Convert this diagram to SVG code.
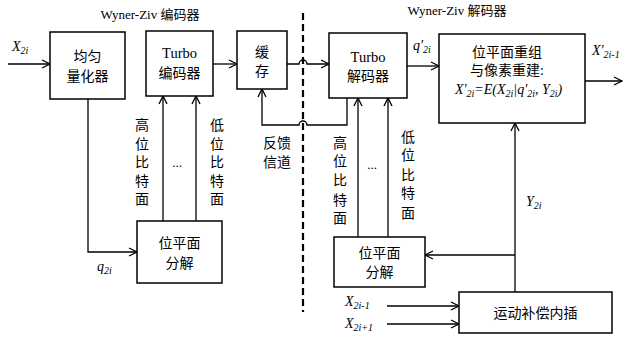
<svg xmlns="http://www.w3.org/2000/svg" width="624" height="340" viewBox="0 0 624 340">
<style>
.box{fill:#fff;stroke:#000;stroke-width:1.5}
.ln{fill:none;stroke:#000;stroke-width:1.3}
.zh{font-family:"Liberation Serif","Noto Sans CJK SC",serif;font-size:14px;text-anchor:middle;fill:#000}
.en{font-family:"Liberation Serif","Noto Sans CJK SC",serif;font-size:14.5px;text-anchor:middle;fill:#000}
.tt{font-family:"Liberation Serif","Noto Sans CJK SC",serif;font-size:13px;text-anchor:middle;fill:#000}
.it{font-family:"Liberation Serif",serif;font-size:14px;font-style:italic;fill:#000}
.sb{font-size:10px}
</style>
<defs>
<marker id="ar" markerUnits="userSpaceOnUse" markerWidth="12" markerHeight="12" refX="9" refY="5" orient="auto">
<path d="M1,1 L9,5 L1,9" fill="none" stroke="#000" stroke-width="1.3"/>
</marker>
</defs>
<rect width="624" height="340" fill="#fff"/>
<text class="tt" x="150" y="19">Wyner-Ziv 编码器</text>
<text class="tt" x="457" y="15">Wyner-Ziv 解码器</text>
<line x1="303" y1="13" x2="303" y2="312" stroke="#000" stroke-width="2.2" stroke-dasharray="7 4"/>
<g id="connectors">
<path class="ln" d="M8,64 H50" marker-end="url(#ar)"/>
<path class="ln" d="M88,99 V252 H137" marker-end="url(#ar)"/>
<path class="ln" d="M213,64 H237" marker-end="url(#ar)"/>
<path class="ln" d="M287,64 H299 A4,4 0 0 1 307,64 H329" marker-end="url(#ar)"/>
<path class="ln" d="M347,98 V125 H307 A4,4 0 0 0 299,125 H262 V89" marker-end="url(#ar)"/>
<path class="ln" d="M163,221 V96" marker-end="url(#ar)"/>
<path class="ln" d="M196,221 V96" marker-end="url(#ar)"/>
<path class="ln" d="M358,237 V98" marker-end="url(#ar)"/>
<path class="ln" d="M388,237 V98" marker-end="url(#ar)"/>
<path class="ln" d="M407,66 H439" marker-end="url(#ar)"/>
<path class="ln" d="M585,81 H622" marker-end="url(#ar)"/>
<path class="ln" d="M515,292 V123" marker-end="url(#ar)"/>
<path class="ln" d="M515,255 H425" marker-end="url(#ar)"/>
<path class="ln" d="M387,306 H459" marker-end="url(#ar)"/>
<path class="ln" d="M387,324 H459" marker-end="url(#ar)"/>
</g>
<g id="quantizer">
<rect class="box" x="50" y="32" width="75" height="67"/>
<text class="zh" x="87.5" y="61">均匀</text>
<text class="zh" x="87.5" y="81">量化器</text>
</g>
<g id="turbo-enc">
<rect class="box" x="146" y="31" width="67" height="65"/>
<text class="en" x="179.5" y="58">Turbo</text>
<text class="zh" x="179.5" y="78">编码器</text>
</g>
<g id="buffer">
<rect class="box" x="237" y="31" width="50" height="58"/>
<text class="zh" x="262" y="57">缓</text>
<text class="zh" x="262" y="76">存</text>
</g>
<g id="bitplane-enc">
<rect class="box" x="137" y="221" width="85" height="62"/>
<text class="zh" x="179.5" y="248">位平面</text>
<text class="zh" x="179.5" y="268">分解</text>
</g>
<g id="turbo-dec">
<rect class="box" x="329" y="33" width="78" height="65"/>
<text class="en" x="368" y="62">Turbo</text>
<text class="zh" x="368" y="81">解码器</text>
</g>
<g id="recon">
<rect class="box" x="439" y="34" width="146" height="89"/>
<text class="zh" x="507" y="57">位平面重组</text>
<text class="zh" x="507" y="75">与像素重建:</text>
<text class="it" x="455" y="94">X'<tspan class="sb" dy="3">2<tspan>i</tspan></tspan><tspan dy="-3">=E(X</tspan><tspan class="sb" dy="3">2i</tspan><tspan dy="-3">|q'</tspan><tspan class="sb" dy="3">2i</tspan><tspan dy="-3">, Y</tspan><tspan class="sb" dy="3">2i</tspan><tspan dy="-3">)</tspan></text>
</g>
<g id="bitplane-dec">
<rect class="box" x="334" y="237" width="91" height="50"/>
<text class="zh" x="379.5" y="258">位平面</text>
<text class="zh" x="379.5" y="277">分解</text>
</g>
<g id="mci">
<rect class="box" x="459" y="292" width="153" height="41"/>
<text class="zh" x="535.5" y="318">运动补偿内插</text>
</g>
<g id="labels">
<text class="zh" x="142" y="130">高</text>
<text class="zh" x="142" y="149">位</text>
<text class="zh" x="142" y="167">比</text>
<text class="zh" x="142" y="186">特</text>
<text class="zh" x="142" y="204">面</text>
<text class="zh" x="217" y="130">低</text>
<text class="zh" x="217" y="149">位</text>
<text class="zh" x="217" y="167">比</text>
<text class="zh" x="217" y="186">特</text>
<text class="zh" x="217" y="204">面</text>
<text class="tt" x="177" y="167">...</text>
<text class="zh" x="277" y="148">反馈</text>
<text class="zh" x="277" y="167">信道</text>
<text class="zh" x="340" y="148">高</text>
<text class="zh" x="340" y="166">位</text>
<text class="zh" x="340" y="185">比</text>
<text class="zh" x="340" y="205">特</text>
<text class="zh" x="340" y="223">面</text>
<text class="zh" x="408" y="142">低</text>
<text class="zh" x="408" y="160">位</text>
<text class="zh" x="408" y="180">比</text>
<text class="zh" x="408" y="198">特</text>
<text class="zh" x="408" y="218">面</text>
<text class="tt" x="372" y="169">...</text>
<text class="it" x="12" y="51">X<tspan class="sb" dy="3">2i</tspan></text>
<text class="it" x="97" y="271">q<tspan class="sb" dy="3">2i</tspan></text>
<text class="it" x="413" y="50">q'<tspan class="sb" dy="3">2i</tspan></text>
<text class="it" x="592" y="55">X'<tspan class="sb" dy="3">2i-1</tspan></text>
<text class="it" x="526" y="206">Y<tspan class="sb" dy="3">2i</tspan></text>
<text class="it" x="345" y="306">X<tspan class="sb" dy="3">2i-1</tspan></text>
<text class="it" x="345" y="328">X<tspan class="sb" dy="3">2i+1</tspan></text>
</g>
</svg>
